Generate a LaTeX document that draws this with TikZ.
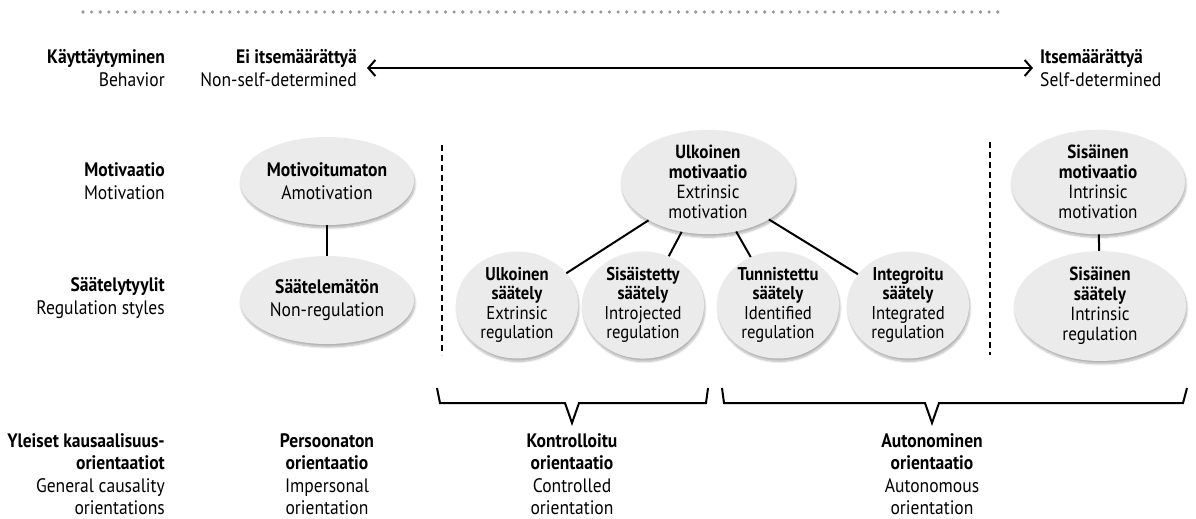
\documentclass[tikz,border=0pt]{standalone}
\usepackage{fontspec}
\setmainfont{PT Sans}[FakeStretch=0.9]
\usetikzlibrary{shapes.geometric,arrows.meta,shadows.blur}

\begin{document}
\begin{tikzpicture}[x=1pt,y=-1pt,
  every node/.style={font=\fontsize{19.5}{22.5}\selectfont, inner sep=0pt},
  bubble/.style={ellipse, fill=black!8, align=center, minimum width=174pt, minimum height=88pt,
    blur shadow={shadow xshift=1pt, shadow yshift=-3pt, shadow blur steps=8, shadow opacity=30}},
  tall/.style={bubble, minimum height=92pt, font=\fontsize{19}{20}\selectfont},
  small/.style={bubble, minimum width=122pt, minimum height=104pt, font=\fontsize{18.5}{19.5}\selectfont},
  rowlabel/.style={anchor=east, align=right},
  link/.style={line width=2pt},
  divider/.style={line width=1.6pt, dash pattern=on 6pt off 4pt},
  bracket/.style={line width=2pt, line join=miter}]
  \useasboundingbox (0,0) rectangle (1196,519);

  % dotted rule on top
  \foreach \i in {0,...,106}
    \fill[black!40] (83+\i*8.63,12) circle (1.8pt);

  % row labels
  \node[rowlabel] (behav) at (165,68) {\textbf{Käyttäytyminen}\\Behavior};
  \node[rowlabel] (motiv) at (165,181) {\textbf{Motivaatio}\\Motivation};
  \node[rowlabel] (regstyle) at (165,298) {\textbf{Säätelytyylit}\\Regulation styles};
  \node[rowlabel] (caus) at (165,474) {\textbf{Yleiset kausaalisuus-}\\\textbf{orientaatiot}\\General causality\\orientations};

  % behaviour axis
  \node[rowlabel] (nonself) at (357,68) {\textbf{Ei itsemäärättyä}\\Non-self-determined};
  \node[anchor=west, align=left] (selfdet) at (1040,68) {\textbf{Itsemäärättyä}\\Self-determined};
  \draw[link, {Straight Barb[length=7pt,width=16pt]}-{Straight Barb[length=7pt,width=16pt]}]
    ([xshift=10pt]nonself.east) -- ([xshift=-7pt]selfdet.west);

  % motivation and regulation
  \node[bubble] (amot) at (327,181) {\textbf{Motivoitumaton}\\Amotivation};
  \node[bubble] (nonreg) at (327,300) {\textbf{Säätelemätön}\\Non-regulation};
  \node[tall] (extmot) at (708,182) {\textbf{Ulkoinen}\\\textbf{motivaatio}\\Extrinsic\\motivation};
  \node[tall] (intmot) at (1098,182) {\textbf{Sisäinen}\\\textbf{motivaatio}\\Intrinsic\\motivation};
  \node[small] (extreg) at (517,305) {\textbf{Ulkoinen}\\\textbf{säätely}\\Extrinsic\\regulation};
  \node[small] (introreg) at (643,305) {\textbf{Sisäistetty}\\\textbf{säätely}\\Introjected\\regulation};
  \node[small] (identreg) at (778,305) {\textbf{Tunnistettu}\\\textbf{säätely}\\Identified\\regulation};
  \node[small] (integreg) at (908,305) {\textbf{Integroitu}\\\textbf{säätely}\\Integrated\\regulation};
  \node[tall, minimum width=172pt, minimum height=102pt] (intreg) at (1100,306) {\textbf{Sisäinen}\\\textbf{säätely}\\Intrinsic\\regulation};

  \draw[link] (amot) -- (nonreg);
  \draw[link] (extmot) -- (extreg);
  \draw[link] (extmot) -- (introreg);
  \draw[link] (extmot) -- (identreg);
  \draw[link] (extmot) -- (integreg);
  \draw[link] (intmot) -- (intreg);

  \draw[divider] (442,145) -- (442,355);
  \draw[divider] (990,142) -- (990,355);

  % brackets
  \draw[bracket] (437,388) -- (440,403) -- (565,403) -- (572,423) -- (579,403) -- (706,403) -- (708,388);
  \draw[bracket] (722,388) -- (724,403) -- (925,403) -- (932,423) -- (939,403) -- (1183,403) -- (1187,388);

  % orientations
  \node[align=center] (imperso) at (327,474) {\textbf{Persoonaton}\\\textbf{orientaatio}\\Impersonal\\orientation};
  \node[align=center] (control) at (572,474) {\textbf{Kontrolloitu}\\\textbf{orientaatio}\\Controlled\\orientation};
  \node[align=center] (autono) at (932,474) {\textbf{Autonominen}\\\textbf{orientaatio}\\Autonomous\\orientation};
\end{tikzpicture}
\end{document}
